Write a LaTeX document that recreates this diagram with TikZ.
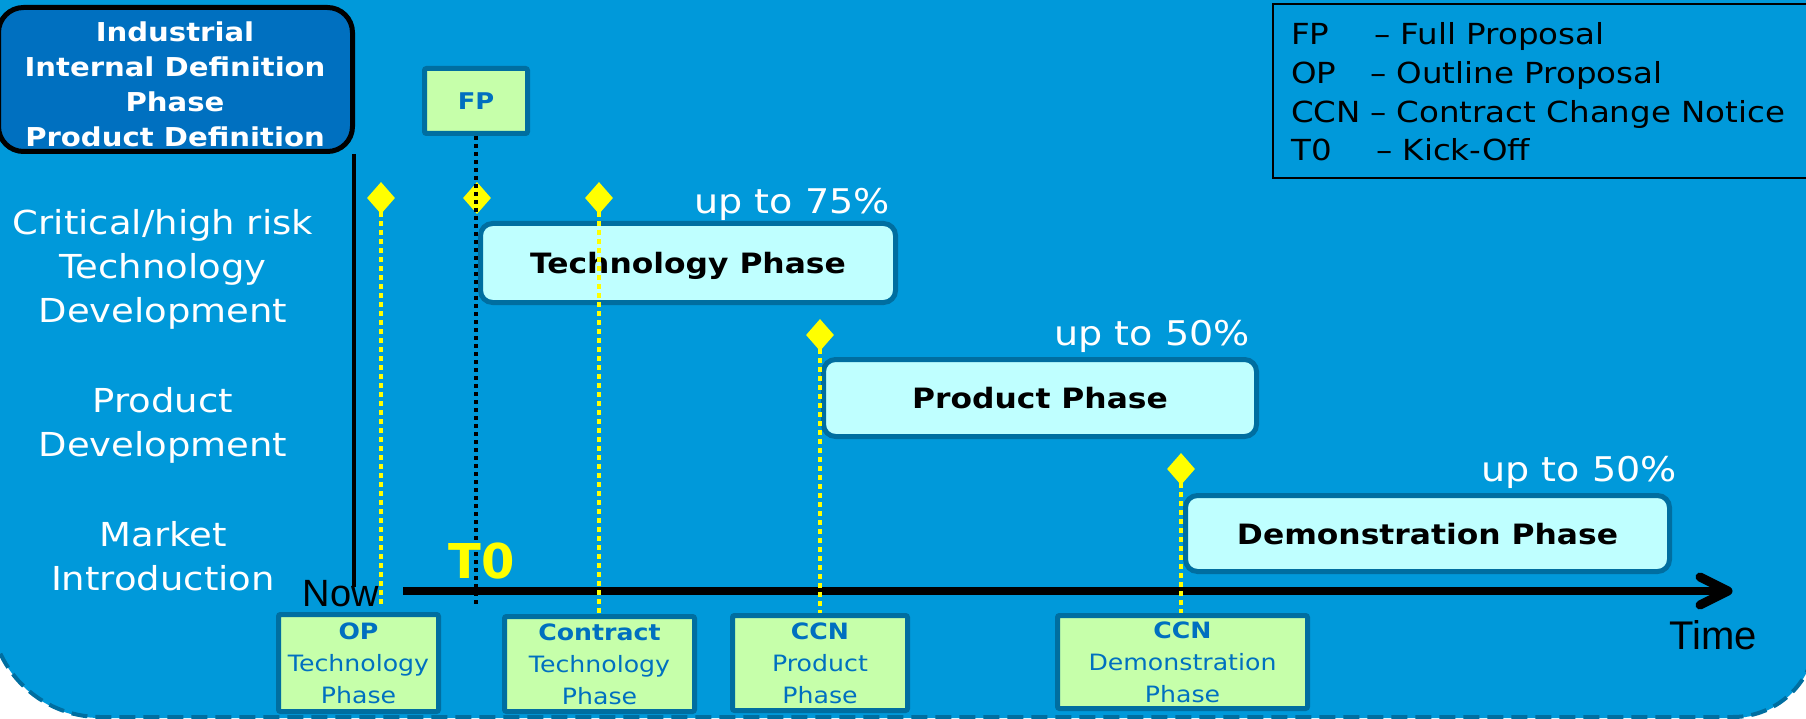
\documentclass[tikz,border=0pt]{standalone}
\usepackage{fontspec}
\setmainfont{DejaVu Sans}[FakeStretch=1.12]
\newfontfamily\plainfont{DejaVu Sans}
\newfontfamily\arialfont{Liberation Sans}
\usetikzlibrary{shapes.geometric,calc}
\definecolor{bgblue}{HTML}{0099DA}
\definecolor{darkedge}{HTML}{006EA0}
\definecolor{headblue}{HTML}{0070C0}
\definecolor{boxgreen}{HTML}{C6FFAA}
\definecolor{boxcyan}{HTML}{BFFFFF}
\definecolor{txtblue}{HTML}{0070C0}
\definecolor{ddyellow}{HTML}{FFFF00}
\tikzset{
  headbox/.style={draw=black, line width=5pt, fill=headblue, rounded corners=25pt, text=white,
    font=\fontsize{26}{35}\selectfont\bfseries, align=center, inner sep=0pt},
  lefttxt/.style={text=white, font=\fontsize{33}{44}\selectfont, align=center, inner sep=0pt},
  phasebox/.style={draw=darkedge, line width=5pt, fill=boxcyan, rounded corners=12pt,
    font=\fontsize{28}{34}\selectfont\bfseries, text=black, inner sep=0pt, text depth=0pt},
  pcttxt/.style={text=white, font=\fontsize{34}{40}\selectfont, inner sep=0pt, anchor=east},
  gbox/.style={draw=darkedge, line width=5pt, fill=boxgreen, text=txtblue,
    font=\fontsize{22.5}{32}\selectfont, align=center, inner sep=0pt, rounded corners=2pt},
  ms/.style={diamond, fill=ddyellow, minimum width=28pt, minimum height=32pt, inner sep=0pt},
  ydot/.style={draw=ddyellow, line width=4pt, dash pattern=on 5pt off 4pt},
  bdot/.style={draw=black, line width=4pt, dash pattern=on 4pt off 4pt},
}
\begin{document}
\begin{tikzpicture}[x=1pt,y=-1pt]
\useasboundingbox (0,0) rectangle (1806,719);
% background
\fill[bgblue]
  (-10,-10) -- (1816,-10) -- (1816,634) .. controls (1816,679.8) and (1778.8,718) .. (1733,718)
  -- (100,718) .. controls (39.25,718) and (-10,667.75) .. (-10,607) -- cycle;
\draw[draw=darkedge, line width=4pt, dash pattern=on 16pt off 8pt]
  (1816,634) .. controls (1816,679.8) and (1778.8,717) .. (1733,717)
  -- (100,717) .. controls (39.25,717) and (-10,667.75) .. (-10,607);

% heading box
\node[headbox, minimum width=354pt, minimum height=144pt] (head) at (175.5,79.5) {};
\node[text=white, font=\fontsize{26}{35}\selectfont\bfseries, align=center, inner sep=0pt] (headtxt) at (175,84)
  {Industrial\\Internal Definition\\Phase\\Product Definition};
\coordinate (vtop) at (354,154);
\coordinate (vbot) at (354,587);
\draw[line width=4pt] (vtop) -- (vbot);

% left labels
\node[lefttxt] (lab1) at (163,269) {Critical/high risk\\Technology\\Development};
\node[lefttxt] (lab2) at (163,425) {Product\\Development};
\node[lefttxt] (lab3) at (163,556) {Market\\Introduction};

% legend
\node[draw=black, line width=2pt, minimum width=540pt, minimum height=174pt, anchor=north west, inner sep=0pt] (legbox) at (1272,3) {};
\node[anchor=west, font=\fontsize{29}{38.7}\selectfont, inner sep=0pt, align=left] (legtxt) at (1291,92)
  {\makebox[83pt][l]{FP}– Full Proposal\\
   \makebox[79pt][l]{OP}– Outline Proposal\\
   \makebox[79pt][l]{CCN}– Contract Change Notice\\
   \makebox[85pt][l]{T0}– Kick-Off};

% phase boxes
\node[phasebox, minimum width=415pt, minimum height=79pt] (tech) at (688,263) {Technology Phase};
\node[phasebox, minimum width=433pt, minimum height=77pt] (prod) at (1040,398) {Product Phase};
\node[phasebox, minimum width=484pt, minimum height=76pt] (demo) at (1427.5,533.5) {Demonstration Phase};

\node[pcttxt] (p1) at (890,204) {up to 75\%};
\node[pcttxt] (p2) at (1250,336) {up to 50\%};
\node[pcttxt] (p3) at (1677,472) {up to 50\%};

% FP box
\node[gbox, minimum width=103pt, minimum height=65pt, font=\fontsize{23}{28}\selectfont\bfseries] (fp) at (476,101) {FP};

% bottom boxes
\node[gbox, minimum width=160pt, minimum height=97pt] (op) at (358.5,663) {\textbf{OP}\\Technology\\Phase};
\node[gbox, minimum width=190pt, minimum height=95pt] (contract) at (599.5,664) {\textbf{Contract}\\Technology\\Phase};
\node[gbox, minimum width=175pt, minimum height=95pt] (ccnp) at (820,663) {\textbf{CCN}\\Product\\Phase};
\node[gbox, minimum width=250pt, minimum height=93pt] (ccnd) at (1182.5,662) {\textbf{CCN}\\Demonstration\\Phase};

% axis
\coordinate (ax0) at (403,591);
\coordinate (ax1) at (1728,591);
\draw[line width=8pt] (ax0) -- (ax1);
\draw[line width=9pt, line cap=round, line join=round] ($(ax1)+(-28,-14)$) -- (ax1) -- ($(ax1)+(-28,14)$);

% diamonds
\node[ms] (d1) at (381,198) {};
\node[ms] (d2) at (477,198) {};
\node[ms] (d3) at (599,198) {};
\node[ms] (d4) at (820,335) {};
\node[ms] (d5) at (1181,469) {};

% dotted lines
\coordinate (lowend) at (0,607);
\draw[ydot] ([yshift=2pt]d1.south) -- (d1.south |- lowend);
\draw[ydot] ([yshift=2pt]d3.south) -- (d3.south |- contract.north);
\draw[ydot] ([yshift=2pt]d4.south) -- (d4.south |- ccnp.north);
\draw[ydot] ([yshift=2pt]d5.south) -- (d5.south |- ccnd.north);
\draw[bdot] (fp.south) -- (fp.south |- lowend);

% axis texts
\node[inner sep=0pt, text=ddyellow, font=\plainfont\bfseries\fontsize{48}{48}\selectfont] (t0) at (482,561) {T0};
\node[inner sep=0pt, anchor=east, font=\arialfont\fontsize{38}{38}\selectfont] (now) at (379,594) {Now};
\node[inner sep=0pt, font=\arialfont\fontsize{40}{40}\selectfont] (time) at (1713,635) {Time};
\end{tikzpicture}
\end{document}
